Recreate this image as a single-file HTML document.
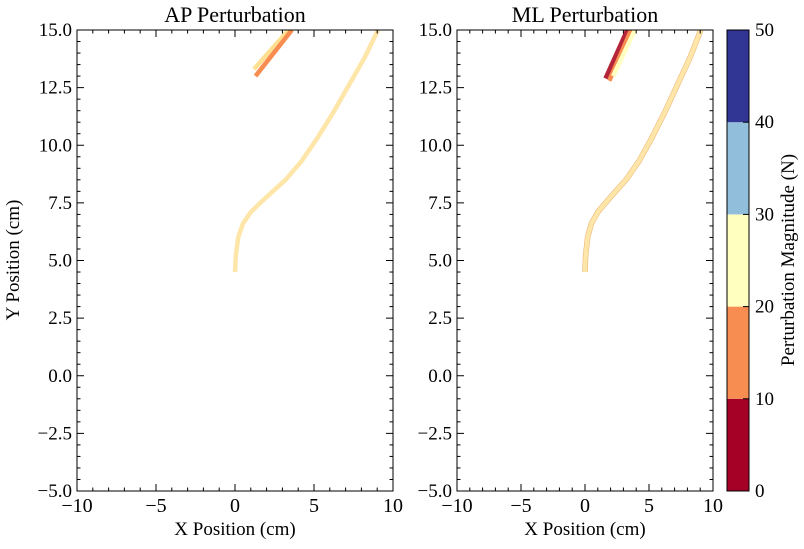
<!DOCTYPE html>
<html><head><meta charset="utf-8"><style>
body{margin:0;background:#fff}
svg text{font-family:"Liberation Serif",serif;fill:#000}
</style></head><body>
<svg width="804" height="544" xmlns="http://www.w3.org/2000/svg">
<g id="root"></g>
</svg>
<script>
const mainX=[0,0.05,0.2,0.5,1,1.6,2.4,3.2,4.2,5.2,6.2,7.2,8.2,9.05];
const mainY=[4.5,5.2,6,6.6,7.1,7.5,8,8.5,9.3,10.3,11.4,12.6,13.8,15];
const apShortX=[[1.2,3.4],[1.3,3.6]];
const apShortY=[[13.3,15],[13,15]];
const apShortC=["#fee090","#f88d52"];
const mlShortX=[[1.6,3.3],[1.9,3.6],[2.2,3.9]];
const mlShortY=[[12.9,15],[12.8,15],[13.0,15]];
const mlShortC=["#b5253a","#f88d52","#ffffbf"];
const xTicks=[-10,-5,0,5,10];
const yTicks=[-5,-2.5,0,2.5,5,7.5,10,12.5,15];
const cbTicks=[0,10,20,30,40,50];
const cbColors=["#a50026","#f88d52","#ffffbf","#91bfdb","#313695"];
const NS="http://www.w3.org/2000/svg";
const root=document.getElementById('root');
function el(t,a,p){const e=document.createElementNS(NS,t);for(const k in a)e.setAttribute(k,a[k]);(p||root).appendChild(e);return e;}
function fmtY(v){return (v<0?'\u2212':'')+Math.abs(v).toFixed(1);}
function fmtX(v){return (v<0?'\u2212':'')+Math.abs(v);}
function panel(x0,x1,title,name,shortX,shortY,shortC,mlDark,ylab){
 const y0=30,y1=491;
 const sx=v=>x0+(v+10)/20*(x1-x0), sy=v=>y1-(v+5)/20*(y1-y0);
 const g=el('g',{});
 
 
 const clip=el('clipPath',{id:'c'+name},g);el('rect',{x:x0,y:y0,width:x1-x0,height:y1-y0},clip);
 const pg=el('g',{'clip-path':'url(#c'+name+')'},g);
 const d=mainX.map((v,i)=>(i?'L':'M')+sx(v).toFixed(1)+','+sy(mainY[i]).toFixed(1)).join('');
 if(mlDark){el('path',{d:d,fill:'none',stroke:'#e8b070','stroke-width':5.5},pg);}
 const pm=el('path',{d:d,fill:'none',stroke:'#fee5a8','stroke-width':4.5},pg);
 
 
 shortX.forEach((xs,i)=>{const l=el('line',{x1:sx(xs[0]),y1:sy(shortY[i][0]),x2:sx(xs[1]),y2:sy(shortY[i][1]),stroke:shortC[i],'stroke-width':4.5},pg);
  
  });
 el('rect',{x:x0,y:y0,width:x1-x0,height:y1-y0,fill:'none',stroke:'#000','stroke-width':1},g);
 for(let v=-10;v<=10;v++){const maj=v%5==0,L=maj?7:3.5,X=sx(v);
  el('line',{x1:X,y1:y1,x2:X,y2:y1-L,stroke:'#000'},g);el('line',{x1:X,y1:y0,x2:X,y2:y0+L,stroke:'#000'},g);}
 for(let v=-5;v<=15.001;v+=0.5){const maj=Math.abs(v/2.5-Math.round(v/2.5))<1e-6,L=maj?7:3.5,Y=sy(v);
  el('line',{x1:x0,y1:Y,x2:x0+L,y2:Y,stroke:'#000'},g);el('line',{x1:x1,y1:Y,x2:x1-L,y2:Y,stroke:'#000'},g);}
 xTicks.forEach(v=>{const t=el('text',{x:sx(v),y:y1+21,'text-anchor':'middle','font-size':20},g);t.textContent=fmtX(v);});
 yTicks.forEach(v=>{const t=el('text',{x:x0-5,y:sy(v)+6,'text-anchor':'end','font-size':19},g);t.textContent=fmtY(v);});
 const tt=el('text',{x:(x0+x1)/2,y:22,'text-anchor':'middle','font-size':22},g);tt.textContent=title;
 
 const xl=el('text',{x:(x0+x1)/2,y:535,'text-anchor':'middle','font-size':19},g);xl.textContent='X Position (cm)';
 
 if(ylab){const yl=el('text',{x:0,y:0,'text-anchor':'middle','font-size':19,transform:'translate(19,260) rotate(-90)'},g);yl.textContent='Y Position (cm)';
 }
}
panel(77,393,'AP Perturbation','ap-panel',apShortX,apShortY,apShortC,false,true);
panel(457,713,'ML Perturbation','ml-panel',mlShortX,mlShortY,mlShortC,true,false);
const cb=el('g',{});


const cx0=727,cx1=749,cy0=30,cy1=491,cs=v=>cy1-v/50*(cy1-cy0);
cbColors.forEach((c,i)=>{el('rect',{x:cx0,y:cs(cbTicks[i+1]),width:cx1-cx0,height:cs(cbTicks[i])-cs(cbTicks[i+1]),fill:c},cb);});
el('rect',{x:cx0,y:cy0,width:cx1-cx0,height:cy1-cy0,fill:'none',stroke:'#000'},cb);
cbTicks.forEach(v=>{el('line',{x1:cx1,y1:cs(v),x2:cx1-6,y2:cs(v),stroke:'#000'},cb);
 const t=el('text',{x:cx1+6,y:cs(v)+6,'font-size':19},cb);t.textContent=v;});
const cl=el('text',{x:0,y:0,'text-anchor':'middle','font-size':19,transform:'translate(794,260) rotate(-90)'},cb);
cl.textContent='Perturbation Magnitude (N)';


</script>
</body></html>
